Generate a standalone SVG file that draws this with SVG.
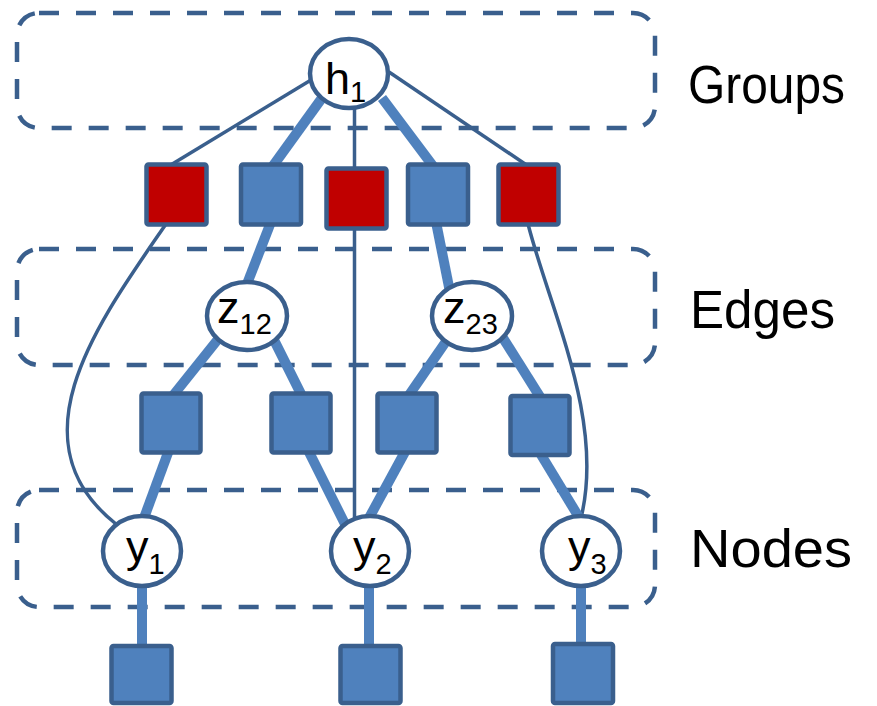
<svg xmlns="http://www.w3.org/2000/svg" width="877" height="706" viewBox="0 0 877 706">
<style>
.box{fill:none;stroke:#3A5F8D;stroke-width:4.5;stroke-dasharray:20 17}
.thin{fill:none;stroke:#3A5F8D;stroke-width:3.5}
.thick{fill:none;stroke:#4F81BD;stroke-width:10}
.ell{fill:#fff;stroke:#3A5F8D;stroke-width:4.5}
.sqb{fill:#4F81BD;stroke:#3A5F8D;stroke-width:4.5}
.sqr{fill:#C00000;stroke:#3A5F8D;stroke-width:4.5}
.lbl{font-family:"Liberation Sans",Arial,sans-serif;font-size:45px;fill:#000}
.sub{font-size:29px}
.title{font-family:"Liberation Sans",Arial,sans-serif;font-size:54px;fill:#000}
</style>
<rect width="877" height="706" fill="#fff"/>
<g id="groups-box"><rect class="box" x="17" y="13" width="638" height="115" rx="22"/></g>
<g id="edges-box"><rect class="box" x="17" y="249" width="638" height="116" rx="22"/></g>
<g id="nodes-box"><rect class="box" x="17" y="490" width="638" height="117" rx="22"/></g>
<g id="connectors">
<line class="thin" x1="311" y1="80" x2="169" y2="166"/>
<line class="thick" x1="322" y1="98" x2="270" y2="170"/>
<line class="thin" x1="354.5" y1="100" x2="354.5" y2="170"/>
<line class="thick" x1="382" y1="98" x2="436" y2="170"/>
<line class="thin" x1="389" y1="72" x2="528" y2="166"/>
<path class="thin" d="M166,224 C100,320 10,440 116,524"/>
<line class="thick" x1="271" y1="222" x2="247" y2="284"/>
<line class="thin" x1="354.5" y1="228" x2="354.5" y2="518"/>
<line class="thick" x1="436" y1="222" x2="450" y2="292"/>
<path class="thin" d="M528,224 C550,310 605,420 581,518"/>
<line class="thick" x1="219" y1="338" x2="171" y2="398"/>
<line class="thick" x1="274" y1="340" x2="303" y2="398"/>
<line class="thick" x1="447" y1="340" x2="407" y2="398"/>
<line class="thick" x1="503" y1="338" x2="542" y2="400"/>
<line class="thick" x1="169" y1="450" x2="144" y2="518"/>
<line class="thick" x1="308" y1="450" x2="345" y2="524"/>
<line class="thick" x1="406" y1="450" x2="369" y2="518"/>
<line class="thick" x1="540" y1="453" x2="580" y2="519"/>
<line class="thick" x1="142" y1="585" x2="142" y2="650"/>
<line class="thick" x1="369" y1="585" x2="369" y2="650"/>
<line class="thick" x1="581" y1="585" x2="581" y2="648"/>
</g>
<g id="h1"><ellipse class="ell" cx="349" cy="73.5" rx="39" ry="34.5"/><text class="lbl" x="325" y="94">h<tspan class="sub" dy="8">1</tspan></text></g>
<g id="f1"><rect class="sqr" x="146.5" y="164.5" width="60" height="60" rx="2"/></g>
<g id="f2"><rect class="sqb" x="241" y="164.5" width="60" height="60" rx="2"/></g>
<g id="f3"><rect class="sqr" x="326.5" y="168.5" width="60" height="60" rx="2"/></g>
<g id="f4"><rect class="sqb" x="408" y="164.5" width="60" height="60" rx="2"/></g>
<g id="f5"><rect class="sqr" x="498.5" y="164.5" width="60" height="60" rx="2"/></g>
<g id="z12"><ellipse class="ell" cx="247" cy="316" rx="40" ry="34"/><text class="lbl" x="217" y="323">z<tspan class="sub" dy="11">12</tspan></text></g>
<g id="z23"><ellipse class="ell" cx="472" cy="316" rx="40" ry="34"/><text class="lbl" x="443" y="323">z<tspan class="sub" dy="11">23</tspan></text></g>
<g id="e1"><rect class="sqb" x="141.5" y="393.5" width="59" height="59" rx="2"/></g>
<g id="e2"><rect class="sqb" x="271.5" y="393.5" width="59" height="59" rx="2"/></g>
<g id="e3"><rect class="sqb" x="377.5" y="393.5" width="59" height="59" rx="2"/></g>
<g id="e4"><rect class="sqb" x="510.5" y="396" width="59" height="59" rx="2"/></g>
<g id="y1"><ellipse class="ell" cx="142" cy="551" rx="39" ry="35"/><text class="lbl" x="126" y="562">y<tspan class="sub" dy="12">1</tspan></text></g>
<g id="y2"><ellipse class="ell" cx="370" cy="551" rx="39" ry="35"/><text class="lbl" x="353" y="562">y<tspan class="sub" dy="12">2</tspan></text></g>
<g id="y3"><ellipse class="ell" cx="581" cy="551" rx="39" ry="35"/><text class="lbl" x="568" y="562">y<tspan class="sub" dy="12">3</tspan></text></g>
<g id="u1"><rect class="sqb" x="111.5" y="646" width="60" height="57" rx="2"/></g>
<g id="u2"><rect class="sqb" x="340.5" y="646" width="60" height="57" rx="2"/></g>
<g id="u3"><rect class="sqb" x="553" y="644" width="60" height="59" rx="2"/></g>
<g id="labels">
<text class="title" x="688" y="103" textLength="157" lengthAdjust="spacingAndGlyphs">Groups</text>
<text class="title" x="690" y="328" textLength="145" lengthAdjust="spacingAndGlyphs">Edges</text>
<text class="title" x="690" y="567" textLength="162" lengthAdjust="spacingAndGlyphs">Nodes</text>
</g>
</svg>
